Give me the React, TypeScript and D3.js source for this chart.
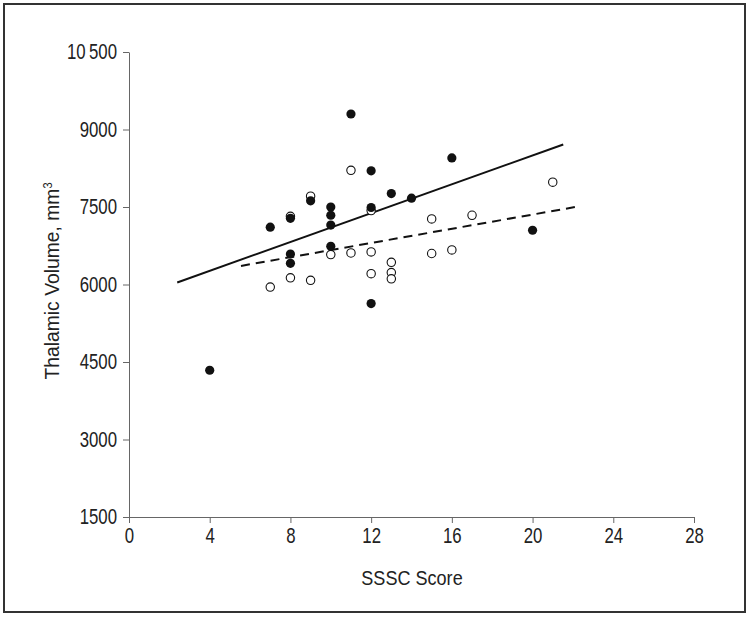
import React, { useEffect, useRef } from "react";
import * as d3 from "d3";

// SSSC score vs thalamic volume, two groups
const filledScore = [11, 12, 16, 13, 14, 9, 8, 7, 10, 10, 10, 12, 10, 8, 8, 12, 4, 20];
const filledVolume = [9300, 8200, 8450, 7760, 7670, 7620, 7280, 7110, 7500, 7340, 7150, 7490, 6740, 6590, 6410, 5630, 4340, 7050];

const openScore = [11, 9, 8, 12, 15, 17, 10, 11, 12, 13, 13, 13, 12, 15, 16, 7, 8, 9, 21];
const openVolume = [8210, 7710, 7320, 7430, 7270, 7340, 6580, 6610, 6630, 6430, 6230, 6110, 6210, 6600, 6670, 5950, 6130, 6080, 7980];

// fitted lines, [start, end]
const solidFitX = [2.39, 21.52];
const solidFitY = [6040, 8710];
const dashedFitX = [5.55, 22.27];
const dashedFitY = [6360, 7510];

const xTicks = [0, 4, 8, 12, 16, 20, 24, 28];
const yTicks = [1500, 3000, 4500, 6000, 7500, 9000, 10500];

const FONT = "'Liberation Sans', Arial, Helvetica, sans-serif";
const SQUEEZE = 0.78; // reference uses a condensed face

export default function App() {
  const svgRef = useRef<SVGSVGElement>(null);
  const width = 750;
  const height = 617;

  useEffect(() => {
    const svg = d3.select(svgRef.current);
    svg.selectAll("*").remove();

    const x = d3.scaleLinear().domain([0, 28]).range([129, 694]);
    const y = d3.scaleLinear().domain([1500, 10500]).range([517, 52]);

    // frame
    svg.append("rect")
      .attr("x", 4).attr("y", 4)
      .attr("width", 741).attr("height", 608)
      .attr("fill", "white")
      .attr("stroke", "#333")
      .attr("stroke-width", 2);

    const xAxis = svg.append("g")
      .attr("transform", `translate(0, ${y(1500)})`)
      .call(d3.axisBottom(x).tickValues(xTicks).tickSize(6).tickSizeOuter(0).tickPadding(5));

    const yAxis = svg.append("g")
      .attr("transform", `translate(${x(0)}, 0)`)
      .call(d3.axisLeft(y).tickValues(yTicks).tickSize(6).tickSizeOuter(0)
        .tickFormat(d => (+d >= 10000 ? d3.format(",")(+d).replace(",", "\u2009") : String(d))));

    [xAxis, yAxis].forEach(ax => {
      ax.select(".domain").attr("stroke", "#666");
      ax.selectAll(".tick line").attr("stroke", "#666");
      ax.selectAll(".tick text")
        .attr("fill", "#222")
        .attr("transform", `scale(${SQUEEZE},1)`)
        .style("font-family", FONT)
        .style("font-size", "21.5px");
    });
    // keep y labels 6px clear of tick ends after squeezing
    yAxis.selectAll(".tick text").attr("x", -12 / SQUEEZE);

    // axis titles
    svg.append("text")
      .attr("transform", `translate(412, 585) scale(0.86,1)`)
      .attr("text-anchor", "middle")
      .attr("fill", "#222")
      .style("font-family", FONT)
      .style("font-size", "21px")
      .text("SSSC Score");

    const yTitle = svg.append("text")
      .attr("transform", `translate(59, 281) rotate(-90) scale(0.92,1)`)
      .attr("text-anchor", "middle")
      .attr("fill", "#222")
      .style("font-family", FONT)
      .style("font-size", "21px");
    yTitle.append("tspan").text("Thalamic Volume, mm");
    yTitle.append("tspan").attr("dy", -7).style("font-size", "12px").text("3");

    // regression lines
    svg.append("line")
      .attr("x1", x(solidFitX[0])).attr("y1", y(solidFitY[0]))
      .attr("x2", x(solidFitX[1])).attr("y2", y(solidFitY[1]))
      .attr("stroke", "#111")
      .attr("stroke-width", 2);

    svg.append("line")
      .attr("x1", x(dashedFitX[0])).attr("y1", y(dashedFitY[0]))
      .attr("x2", x(dashedFitX[1])).attr("y2", y(dashedFitY[1]))
      .attr("stroke", "#111")
      .attr("stroke-width", 2)
      .attr("stroke-dasharray", "9,6");

    // open circles
    svg.append("g")
      .selectAll("circle")
      .data(openScore.map((s, i) => [s, openVolume[i]]))
      .join("circle")
      .attr("cx", d => x(d[0]))
      .attr("cy", d => y(d[1]))
      .attr("r", 4.2)
      .attr("fill", "white")
      .attr("stroke", "#111")
      .attr("stroke-width", 1.1);

    // filled circles
    svg.append("g")
      .selectAll("circle")
      .data(filledScore.map((s, i) => [s, filledVolume[i]]))
      .join("circle")
      .attr("cx", d => x(d[0]))
      .attr("cy", d => y(d[1]))
      .attr("r", 4.6)
      .attr("fill", "#111");
  }, []);

  return (
    <svg
      ref={svgRef}
      width={width}
      height={height}
      style={{ position: "absolute", left: 0, top: 0, background: "white" }}
    />
  );
}
